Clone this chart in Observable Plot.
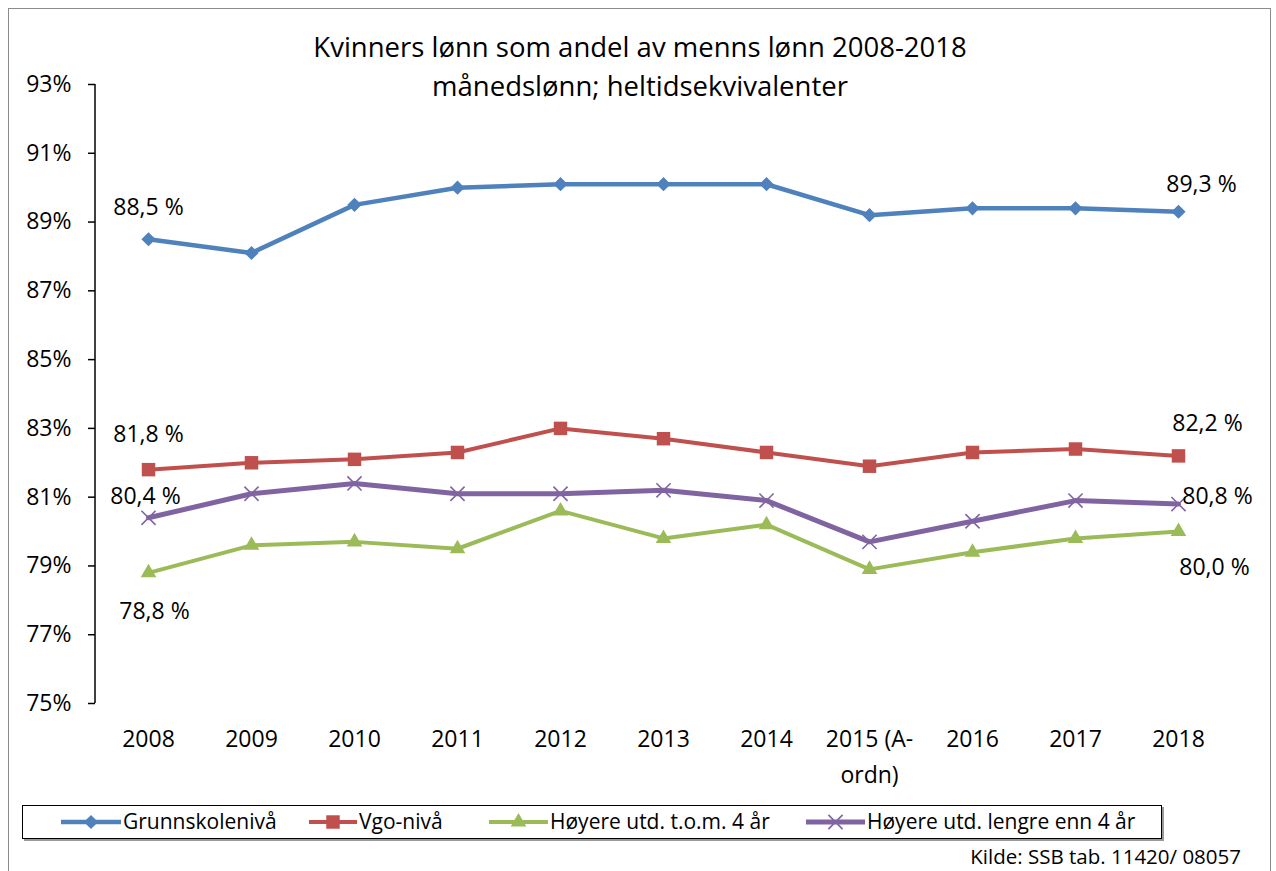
<!DOCTYPE html>
<html>
<head>
<meta charset="utf-8">
<script src="https://cdn.jsdelivr.net/npm/d3@7"></script>
<script src="https://cdn.jsdelivr.net/npm/@observablehq/plot@0.6"></script>
<style>
  html, body { margin: 0; padding: 0; background: #fff; }
  body { width: 1276px; height: 871px; position: relative; overflow: hidden; font-family: "Open Sans", sans-serif; color: #000; }
  #frame { position: absolute; left: 8px; top: 8px; width: 1263px; height: 900px; border: 1px solid #8c8c8c; box-sizing: border-box; }
  #chart { position: absolute; left: 0; top: 0; }
  #title { position: absolute; left: 0; width: 1280px; top: 27px; text-align: center; font-size: 27.5px; line-height: 39px; }
  #legend { position: absolute; left: 22px; top: 805px; width: 1140px; height: 34px; border: 1px solid #000; box-sizing: border-box; box-shadow: 2px 2px 0 #9a9a9a; }
  .item { position: absolute; top: 0; height: 32px; }
  .item svg { position: absolute; top: 0; }
  .item span { position: absolute; top: 1px; white-space: nowrap; font-size: 21px; }
  #caption { position: absolute; right: 35px; top: 842px; font-size: 20.5px; white-space: nowrap; }
</style>
</head>
<body>
<div id="frame"></div>
<div id="chart"></div>
<div id="title">Kvinners lønn som andel av menns lønn 2008-2018<br>månedslønn; heltidsekvivalenter</div>
<div id="legend"></div>
<div id="caption">Kilde: SSB tab. 11420/ 08057</div>
<script>
const years = ["2008","2009","2010","2011","2012","2013","2014","2015 (A-ordn)","2016","2017","2018"];
const yearLabels = ["2008","2009","2010","2011","2012","2013","2014","2015 (A-\nordn)","2016","2017","2018"];
const seriesNames = ["Grunnskolenivå","Vgo-nivå","Høyere utd. t.o.m. 4 år","Høyere utd. lengre enn 4 år"];
const grunnskole = [88.5, 88.1, 89.5, 90.0, 90.1, 90.1, 90.1, 89.2, 89.4, 89.4, 89.3];
const vgo        = [81.8, 82.0, 82.1, 82.3, 83.0, 82.7, 82.3, 81.9, 82.3, 82.4, 82.2];
const hoyKort    = [78.8, 79.6, 79.7, 79.5, 80.6, 79.8, 80.2, 78.9, 79.4, 79.8, 80.0];
const hoyLang    = [80.4, 81.1, 81.4, 81.1, 81.1, 81.2, 80.9, 79.7, 80.3, 80.9, 80.8];
const yTicks = [75, 77, 79, 81, 83, 85, 87, 89, 91, 93];
const colors = ["#4F81BD", "#C0504D", "#9BBB59", "#8064A2"];
const symbols = ["diamond2", "square", "triangle", "times"];

const allSeries = [grunnskole, vgo, hoyKort, hoyLang];
const rows = allSeries.flatMap((vals, s) => vals.map((v, i) => ({year: years[i], value: v, series: seriesNames[s]})));
const fmt = v => v.toFixed(1).replace(".", ",") + " %";
const pick = (s, i) => rows.filter(d => d.series === seriesNames[s] && d.year === years[i]);

const lineWidths = [4.5, 4, 4, 5];
const dotR = [6.4, 7.6, 5.8, 6.5];

const marks = [];
// y axis line
marks.push((index, scales, values, dims) => {
  const l = document.createElementNS("http://www.w3.org/2000/svg", "line");
  l.setAttribute("x1", dims.marginLeft); l.setAttribute("x2", dims.marginLeft);
  l.setAttribute("y1", dims.marginTop); l.setAttribute("y2", dims.height - dims.marginBottom);
  l.setAttribute("stroke", "#000"); l.setAttribute("stroke-width", 1.5);
  return l;
});
marks.push(Plot.axisY({ticks: yTicks, tickFormat: d => d + "%", tickSize: 7, tickPadding: 17, fontSize: 23, stroke: "#000", strokeWidth: 1.5, label: null}));
marks.push(Plot.axisX({tickSize: 0, tickPadding: 17, fontSize: 23, lineHeight: 1.6, label: null, tickFormat: d => yearLabels[years.indexOf(d)]}));

seriesNames.forEach((name, s) => {
  const data = rows.filter(d => d.series === name);
  marks.push(Plot.line(data, {x: "year", y: "value", stroke: colors[s], strokeWidth: lineWidths[s], strokeLinejoin: "round"}));
  if (symbols[s] === "times") {
    marks.push(Plot.dot(data, {x: "year", y: "value", symbol: "times", r: dotR[s], stroke: colors[s], strokeWidth: 1.6, fill: "none"}));
  } else {
    marks.push(Plot.dot(data, {x: "year", y: "value", symbol: symbols[s], r: dotR[s], fill: colors[s], stroke: "none"}));
  }
});

const labelOpts = {x: "year", y: "value", text: d => fmt(d.value), fontSize: 23, fill: "#000"};
const labelOffsets = [
  [0, 0, 0, -32], [1, 0, 0, -35], [3, 0, -3, -21], [2, 0, 6, 39],
  [0, 10, 23, -27], [1, 10, 29, -32], [3, 10, 39, -7], [2, 10, 36, 36]
];
labelOffsets.forEach(([s, i, dx, dy]) => marks.push(Plot.text(pick(s, i), {...labelOpts, dx, dy})));

const chart = Plot.plot({
  width: 1276, height: 790,
  marginTop: 84, marginBottom: 87, marginLeft: 95, marginRight: 45,
  style: {fontFamily: "Open Sans, sans-serif", background: "transparent", color: "#000", overflow: "visible"},
  x: {type: "point", domain: years, padding: 0.5, label: null},
  y: {domain: [75, 93], range: [703, 84], label: null},
  marks
});
document.getElementById("chart").appendChild(chart);

// legend
const legendPos = [[38, 98], [286, 334], [466, 525], [783, 842]];
const legend = document.getElementById("legend");
seriesNames.forEach((name, s) => {
  const [sx, tx] = legendPos[s];
  const item = document.createElement("div");
  item.className = "item";
  item.style.left = sx + "px";
  const w = tx - sx;
  const sw = d3.create("svg").attr("width", w).attr("height", 32);
  sw.append("line").attr("x1", 0).attr("x2", w).attr("y1", 16).attr("y2", 16).attr("stroke", colors[s]).attr("stroke-width", lineWidths[s]);
  const symMap = {diamond2: d3.symbolDiamond2, square: d3.symbolSquare, triangle: d3.symbolTriangle, times: d3.symbolTimes};
  const sym = d3.symbol(symMap[symbols[s]], dotR[s] * dotR[s] * Math.PI);
  const p = sw.append("path").attr("d", sym()).attr("transform", `translate(${w/2},16)`);
  if (symbols[s] === "times") p.attr("fill", "none").attr("stroke", colors[s]).attr("stroke-width", 1.6);
  else p.attr("fill", colors[s]);
  item.appendChild(sw.node());
  const span = document.createElement("span");
  span.style.left = (w + 2) + "px";
  span.textContent = name;
  item.appendChild(span);
  legend.appendChild(item);
});
</script>
</body>
</html>
